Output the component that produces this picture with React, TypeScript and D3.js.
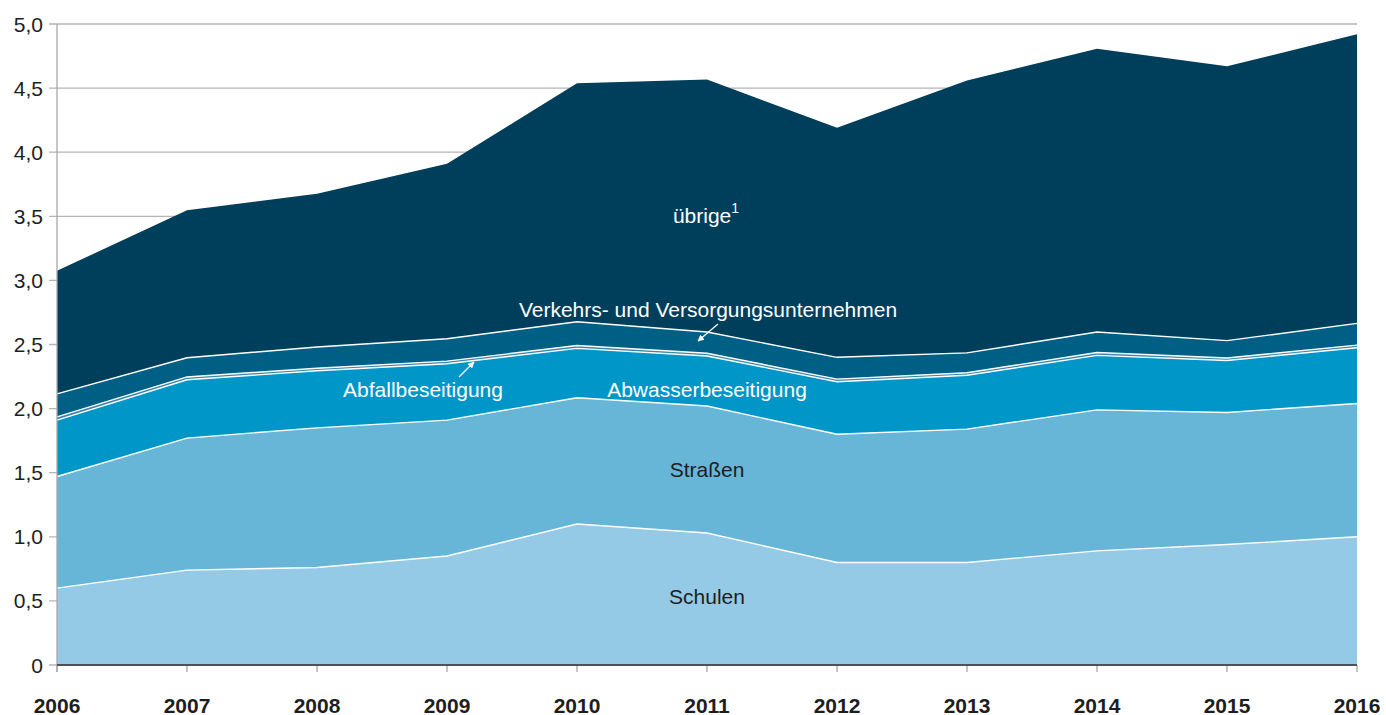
import React from "react";
import * as d3 from "d3";

// Investitionen nach Bereichen, Mrd. Euro
const years = [2006, 2007, 2008, 2009, 2010, 2011, 2012, 2013, 2014, 2015, 2016];
const schulen = [0.6, 0.74, 0.76, 0.85, 1.1, 1.03, 0.8, 0.8, 0.89, 0.94, 1.0];
const strassen = [0.87, 1.03, 1.09, 1.06, 0.985, 0.99, 1.0, 1.04, 1.1, 1.03, 1.04];
const abwasser = [0.44, 0.455, 0.445, 0.44, 0.385, 0.39, 0.41, 0.42, 0.425, 0.405, 0.435];
const abfall = [0.025, 0.022, 0.02, 0.02, 0.022, 0.022, 0.02, 0.02, 0.022, 0.02, 0.02];
const verkehr = [0.18, 0.15, 0.165, 0.175, 0.185, 0.165, 0.17, 0.155, 0.16, 0.135, 0.17];
const uebrige = [0.96, 1.15, 1.195, 1.365, 1.86, 1.97, 1.79, 2.125, 2.21, 2.14, 2.255];

const keys = ["schulen", "strassen", "abwasser", "abfall", "verkehr", "uebrige"];
const colors: Record<string, string> = {
  schulen: "#94cae5",
  strassen: "#67b5d7",
  abwasser: "#0096c8",
  abfall: "#3a86ad",
  verkehr: "#005f85",
  uebrige: "#003f5c",
};
const yTicks = [0, 0.5, 1, 1.5, 2, 2.5, 3, 3.5, 4, 4.5, 5];

const W = 1386;
const H = 715;
const FONT = "'Liberation Sans', Arial, Helvetica, sans-serif";

export default function App() {
  const rows = years.map((year, i) => ({
    year,
    schulen: schulen[i],
    strassen: strassen[i],
    abwasser: abwasser[i],
    abfall: abfall[i],
    verkehr: verkehr[i],
    uebrige: uebrige[i],
  }));

  const x = d3.scaleLinear().domain([2006, 2016]).range([57, 1357]);
  const y = d3.scaleLinear().domain([0, 5]).range([665, 24]);

  const series = d3.stack<any>().keys(keys)(rows);

  const area = d3
    .area<any>()
    .x((d) => x(d.data.year))
    .y0((d) => y(d[0]))
    .y1((d) => y(d[1]));

  const topLine = d3
    .line<any>()
    .x((d) => x(d.data.year))
    .y((d) => y(d[1]));

  const fmt = (v: number) => (v === 0 ? "0" : d3.format(".1f")(v).replace(".", ","));

  return (
    <div style={{ position: "absolute", left: 0, top: 0 }}>
      <svg width={W} height={H} style={{ display: "block" }} fontFamily={FONT}>
        <defs>
          <marker id="arrow" viewBox="0 0 10 10" refX="9" refY="5" markerWidth="5" markerHeight="5" orient="auto">
            <path d="M0,0 L10,5 L0,10 z" fill="#fff" />
          </marker>
        </defs>

        {/* gridlines + tick marks */}
        {yTicks.map((t) => (
          <line key={t} x1={49} x2={1357} y1={y(t)} y2={y(t)} stroke="#b4b4b4" strokeWidth={1.3} />
        ))}

        {/* areas */}
        {series.map((s) => (
          <path key={s.key} d={area(s) as string} fill={colors[s.key]} />
        ))}

        {/* white separators */}
        {series.slice(0, -1).map((s) => (
          <path key={"l" + s.key} d={topLine(s) as string} fill="none" stroke="#fff" strokeWidth={1.4} />
        ))}

        {/* axes */}
        <line x1={57} x2={57} y1={24} y2={672} stroke="#a8a8a8" strokeWidth={1.3} />
        {years.map((yr) => (
          <line key={yr} x1={x(yr)} x2={x(yr)} y1={665} y2={672} stroke="#a8a8a8" strokeWidth={1.3} />
        ))}
        <line x1={57} x2={1357} y1={665} y2={665} stroke="#2b2b2b" strokeWidth={1.6} />

        {yTicks.map((t) => (
          <text key={"t" + t} x={43} y={y(t) + 7.5} textAnchor="end" fontSize={21} fill="#1e1e1e">
            {fmt(t)}
          </text>
        ))}
        {years.map((yr) => (
          <text key={"x" + yr} x={x(yr)} y={712.5} textAnchor="middle" fontSize={21} fontWeight="bold" fill="#1e1e1e">
            {yr}
          </text>
        ))}

        {/* labels */}
        <text x={706} y={222.5} textAnchor="middle" fontSize={21} fill="#fff">
          übrige<tspan fontSize={14} dy={-10}>1</tspan>
        </text>
        <text x={708} y={316.5} textAnchor="middle" fontSize={21} fill="#fff">
          Verkehrs- und Versorgungsunternehmen
        </text>
        <line x1={718} y1={324} x2={698} y2={341} stroke="#fff" strokeWidth={1.3} markerEnd="url(#arrow)" />
        <text x={423} y={396.5} textAnchor="middle" fontSize={21} fill="#fff">
          Abfallbeseitigung
        </text>
        <line x1={459} y1={377} x2={474} y2={362} stroke="#fff" strokeWidth={1.3} markerEnd="url(#arrow)" />
        <text x={707} y={396.5} textAnchor="middle" fontSize={21} fill="#fff">
          Abwasserbeseitigung
        </text>
        <text x={707} y={476.5} textAnchor="middle" fontSize={21} fill="#1e1e1e">
          Straßen
        </text>
        <text x={707} y={603.5} textAnchor="middle" fontSize={21} fill="#1e1e1e">
          Schulen
        </text>
      </svg>
    </div>
  );
}
